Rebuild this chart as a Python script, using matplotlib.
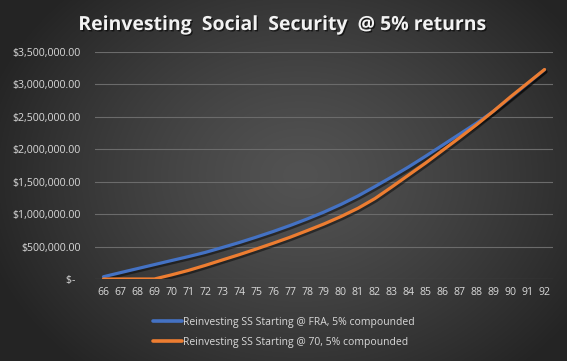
import matplotlib
matplotlib.use("Agg")
import matplotlib.patheffects as pe
import matplotlib.ticker as mticker
import numpy as np
from matplotlib import pyplot as plt

# ages on the x axis
ages = list(range(66, 93))

# account value, reinvesting from FRA (66)
fra_values = [35000, 98000, 160000, 222000, 284000, 345000, 410000, 485000, 562000,
              645000, 732000, 825000, 925000, 1032000, 1150000, 1280000, 1425000,
              1575000, 1730000, 1895000, 2065000, 2235000, 2405000, 2588000, 2795000,
              3010000, 3225000]

# account value, reinvesting from 70
at70_values = [0, 0, 0, 0, 63000, 132000, 210000, 293000, 375000,
               462000, 551000, 644000, 745000, 849000, 963000, 1090000, 1240000,
               1420000, 1605000, 1790000, 1985000, 2180000, 2380000, 2590000, 2810000,
               3020000, 3230000]

series_names = ["Reinvesting SS Starting @ FRA, 5% compounded",
                "Reinvesting SS Starting @ 70, 5% compounded"]
chart_title = "Reinvesting  Social  Security  @ 5% returns"

plt.rcParams['font.family'] = ['Open Sans', 'DejaVu Sans']

W, H = 567, 361
fig = plt.figure(figsize=(W / 100, H / 100), dpi=100)

# radial gradient background
bg = fig.add_axes([0, 0, 1, 1], zorder=-10)
yy, xx = np.mgrid[0:H, 0:W]
r = np.sqrt(((xx - 300) / 330.0) ** 2 + ((yy - 175) / 260.0) ** 2)
r = np.clip(r, 0, 1)
c_in, c_out = 0x52 / 255, 0x24 / 255
img = c_in + (c_out - c_in) * r ** 1.3
bg.imshow(np.dstack([img, img, img]), aspect='auto', extent=[0, 1, 0, 1])
bg.axis('off')

ax = fig.add_axes([95 / W, 1 - 279 / H, (553 - 95) / W, (279 - 52) / H])
ax.set_facecolor('none')

x = np.arange(len(ages))
shadow = [pe.SimpleLineShadow(offset=(1, -1.5), shadow_color='black', alpha=0.45), pe.Normal()]
ax.plot(x, fra_values, color='#4472C4', lw=2.3, solid_capstyle='round',
        solid_joinstyle='round', label=series_names[0], path_effects=shadow, zorder=3)
ax.plot(x, at70_values, color='#ED7D31', lw=2.3, solid_capstyle='round',
        solid_joinstyle='round', label=series_names[1], path_effects=shadow, zorder=4)

ax.set_xlim(-0.5, len(ages) - 0.5)
ax.set_ylim(0, 3500000)
ax.set_xticks(x)
ax.set_xticklabels([str(a) for a in ages])
ax.yaxis.set_major_locator(mticker.MultipleLocator(500000))


def money(v, pos):
    if v == 0:
        return "$-  "
    return "${:,.2f}".format(v)


ax.yaxis.set_major_formatter(mticker.FuncFormatter(money))
ax.tick_params(axis='both', length=0, labelsize=7.6, labelcolor='#d9d9d9')
ax.tick_params(axis='y', pad=10)
ax.tick_params(axis='x', pad=6)
ax.grid(axis='y', color='#6b6b6b', lw=0.8)
ax.set_axisbelow(True)
for s in ax.spines.values():
    s.set_visible(False)

fig.text(0.5, 1 - 25 / H, chart_title, ha='center', va='center', fontsize=14,
         fontweight='bold', color='#f2f2f2',
         path_effects=[pe.withSimplePatchShadow(offset=(1, -1), shadow_rgbFace='black', alpha=0.6)])

leg = ax.legend(loc='upper left', bbox_to_anchor=(153 / W, 1 - 317 / H),
                bbox_transform=fig.transFigure, frameon=False, fontsize=7.5,
                handlelength=2.8, handletextpad=0.1, labelspacing=0.85,
                borderpad=0, borderaxespad=0)
for t in leg.get_texts():
    t.set_color('#d9d9d9')
for h in leg.get_lines():
    h.set_linewidth(2.6)
    h.set_path_effects([])

fig.savefig('out.png', dpi=100)
